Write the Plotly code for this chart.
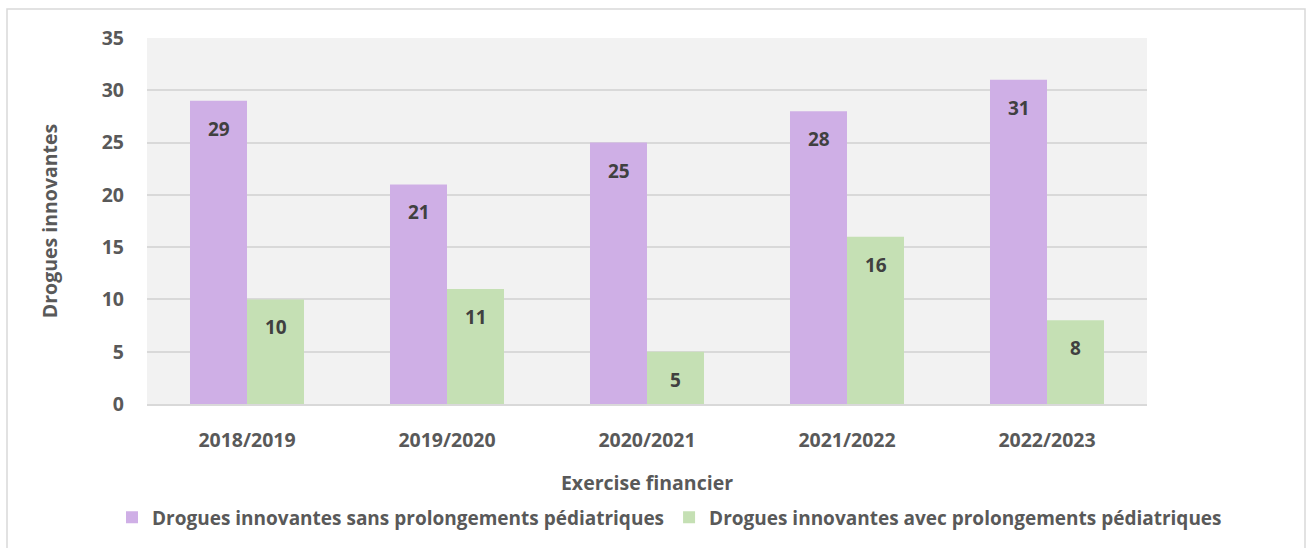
import plotly.graph_objects as go

categories = ["2018/2019", "2019/2020", "2020/2021", "2021/2022", "2022/2023"]
sans_pediatric = [29, 21, 25, 28, 31]
avec_pediatric = [10, 11, 5, 16, 8]
name_sans = "Drogues innovantes sans prolongements pédiatriques"
name_avec = "Drogues innovantes avec prolongements pédiatriques"

FONT = "Open Sans"
GRAY = "#595959"
LABEL = "#404040"
PURPLE = "#CFAFE6"
GREEN = "#C5E0B4"

fig = go.Figure()
fig.add_trace(go.Bar(x=categories, y=sans_pediatric, name=f"<b>{name_sans}</b>",
                     marker=dict(color=PURPLE, line=dict(width=0))))
fig.add_trace(go.Bar(x=categories, y=avec_pediatric, name=f"<b>{name_avec}</b>",
                     marker=dict(color=GREEN, line=dict(width=0))))

annotations = []
for cat, v in zip(categories, sans_pediatric):
    annotations.append(dict(x=cat, y=v, xref="x", yref="y", text=f"<b>{v}</b>",
                            showarrow=False, xshift=-28.5, yshift=-28,
                            font=dict(family=FONT, size=19, color=LABEL)))
for cat, v in zip(categories, avec_pediatric):
    annotations.append(dict(x=cat, y=v, xref="x", yref="y", text=f"<b>{v}</b>",
                            showarrow=False, xshift=28.5, yshift=-28,
                            font=dict(family=FONT, size=19, color=LABEL)))

fig.update_layout(
    width=1307, height=548,
    margin=dict(l=147, r=160, t=38, b=142),
    paper_bgcolor="white",
    plot_bgcolor="#F2F2F2",
    barmode="group", bargap=0.43, bargroupgap=0,
    font=dict(family=FONT, color=GRAY),
    annotations=annotations,
    legend=dict(orientation="h", x=-0.035, xanchor="left", y=-0.31, yanchor="middle",
                font=dict(family=FONT, size=19, color=GRAY), itemwidth=30,
                tracegroupgap=0, traceorder="normal"),
    shapes=[dict(type="rect", xref="paper", yref="paper", x0=-0.14, x1=1.158,
                 y0=-0.4, y1=1.079, line=dict(color="#D9D9D9", width=1.5),
                 fillcolor="rgba(0,0,0,0)", layer="below")],
)
fig.update_xaxes(title=dict(text="<b>Exercise financier</b>", standoff=24,
                            font=dict(family=FONT, size=19.5, color=GRAY)),
                 tickfont=dict(family=FONT, size=19.5, color=GRAY),
                 tickprefix="<b>", ticksuffix="</b>",
                 showline=True, linecolor="#D9D9D9", linewidth=2,
                 showgrid=False, ticks="", ticklabelstandoff=18)
fig.update_yaxes(title=dict(text="<b>Drogues innovantes</b>", standoff=38,
                            font=dict(family=FONT, size=19.5, color=GRAY)),
                 range=[0, 35], dtick=5,
                 tickfont=dict(family=FONT, size=19.5, color=GRAY),
                 tickprefix="<b>", ticksuffix="</b>",
                 gridcolor="#D9D9D9", gridwidth=2, zeroline=False,
                 ticks="", ticklabelstandoff=22)

fig.write_html("out.html", config={"displayModeBar": False},
               post_script="document.body.style.margin='0';")
